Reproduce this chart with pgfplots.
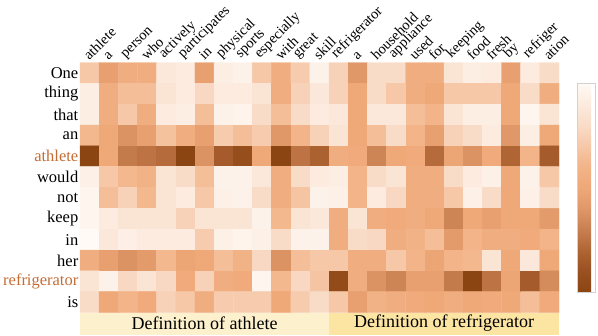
\documentclass[border=0pt]{standalone}
\usepackage{fontspec}
\setmainfont{Liberation Serif}
\usepackage{pgfplots}
\pgfplotsset{compat=1.18}

\definecolor{hl}{RGB}{196,108,52}
\definecolor{bandA}{RGB}{253,241,205}
\definecolor{bandB}{RGB}{252,229,163}

\begin{document}
\begin{tikzpicture}
\useasboundingbox (0,0) rectangle (598bp,336bp);
\begin{axis}[
    at={(80bp,23.5bp)}, anchor=south west,
    scale only axis,
    width=479bp, height=250bp,
    xmin=-0.5, xmax=24.5,
    ymin=-0.5, ymax=11.5,
    y dir=reverse,
    clip=false,
    axis line style={draw=none},
    major tick length=0pt,
    xtick={0,...,24},
    ytick={0,...,11},
    xticklabel pos=upper,
    xticklabels={athlete,a,person,who,actively,participates,in,physical,sports,especially,with,great,skill,refrigerator,a,household,appliance,used,for,keeping,food,fresh,by,refriger,ation},
    yticklabels={One,thing,that,an,\textcolor{hl}{athlete},would,not,keep,in,her,\textcolor{hl}{refrigerator},is},
    xticklabel style={rotate=45, anchor=south west, inner sep=1bp, font=\fontsize{14.5bp}{16bp}\selectfont},
    yticklabel style={inner sep=1.5bp, font=\fontsize{16.5bp}{18bp}\selectfont},
    colormap={attn}{rgb255=(255,250,245) rgb255=(252,235,222) rgb255=(249,220,200) rgb255=(246,200,168) rgb255=(242,180,136) rgb255=(239,168,120) rgb255=(224,152,104) rgb255=(201,128,80) rgb255=(176,101,53) rgb255=(154,80,32) rgb255=(139,69,19)},
    point meta min=0, point meta max=1,
    colorbar,
    colorbar style={
        at={(1.0376,0.918)}, anchor=north west,
        scale only axis,
        width=18bp, height=209bp,
        ytick=\empty,
        y dir=reverse,
        axis line style={draw=gray!35, line width=0.8bp},
    },
]
\addplot[matrix plot*, mesh/cols=25, point meta=explicit] coordinates {
(0,0)[0.30] (1,0)[0.55] (2,0)[0.45] (3,0)[0.45] (4,0)[0.12] (5,0)[0.10] (6,0)[0.55] (7,0)[0.08] (8,0)[0.05] (9,0)[0.30] (10,0)[0.45] (11,0)[0.28] (12,0)[0.05] (13,0)[0.25] (14,0)[0.60] (15,0)[0.20] (16,0)[0.20] (17,0)[0.45] (18,0)[0.45] (19,0)[0.15] (20,0)[0.08] (21,0)[0.10] (22,0)[0.55] (23,0)[0.10] (24,0)[0.20]
(0,1)[0.08] (1,1)[0.45] (2,1)[0.35] (3,1)[0.35] (4,1)[0.15] (5,1)[0.10] (6,1)[0.22] (7,1)[0.10] (8,1)[0.10] (9,1)[0.15] (10,1)[0.45] (11,1)[0.25] (12,1)[0.12] (13,1)[0.25] (14,1)[0.50] (15,1)[0.20] (16,1)[0.30] (17,1)[0.45] (18,1)[0.50] (19,1)[0.30] (20,1)[0.30] (21,1)[0.30] (22,1)[0.50] (23,1)[0.20] (24,1)[0.45]
(0,2)[0.08] (1,2)[0.45] (2,2)[0.30] (3,2)[0.45] (4,2)[0.10] (5,2)[0.08] (6,2)[0.35] (7,2)[0.05] (8,2)[0.04] (9,2)[0.20] (10,2)[0.35] (11,2)[0.20] (12,2)[0.10] (13,2)[0.12] (14,2)[0.50] (15,2)[0.12] (16,2)[0.12] (17,2)[0.35] (18,2)[0.40] (19,2)[0.15] (20,2)[0.08] (21,2)[0.08] (22,2)[0.50] (23,2)[0.03] (24,2)[0.15]
(0,3)[0.38] (1,3)[0.50] (2,3)[0.62] (3,3)[0.55] (4,3)[0.33] (5,3)[0.45] (6,3)[0.55] (7,3)[0.28] (8,3)[0.35] (9,3)[0.28] (10,3)[0.60] (11,3)[0.40] (12,3)[0.25] (13,3)[0.15] (14,3)[0.50] (15,3)[0.35] (16,3)[0.20] (17,3)[0.40] (18,3)[0.55] (19,3)[0.25] (20,3)[0.20] (21,3)[0.10] (22,3)[0.60] (23,3)[0.08] (24,3)[0.50]
(0,4)[1.00] (1,4)[0.50] (2,4)[0.72] (3,4)[0.75] (4,4)[0.78] (5,4)[1.00] (6,4)[0.62] (7,4)[0.85] (8,4)[0.92] (9,4)[0.50] (10,4)[1.00] (11,4)[0.75] (12,4)[0.82] (13,4)[0.45] (14,4)[0.48] (15,4)[0.68] (16,4)[0.50] (17,4)[0.48] (18,4)[0.78] (19,4)[0.52] (20,4)[0.62] (21,4)[0.48] (22,4)[0.80] (23,4)[0.40] (24,4)[0.85]
(0,5)[0.06] (1,5)[0.30] (2,5)[0.38] (3,5)[0.42] (4,5)[0.15] (5,5)[0.20] (6,5)[0.35] (7,5)[0.05] (8,5)[0.05] (9,5)[0.12] (10,5)[0.45] (11,5)[0.20] (12,5)[0.10] (13,5)[0.08] (14,5)[0.40] (15,5)[0.20] (16,5)[0.15] (17,5)[0.45] (18,5)[0.45] (19,5)[0.20] (20,5)[0.10] (21,5)[0.06] (22,5)[0.50] (23,5)[0.05] (24,5)[0.30]
(0,6)[0.03] (1,6)[0.35] (2,6)[0.25] (3,6)[0.38] (4,6)[0.15] (5,6)[0.10] (6,6)[0.30] (7,6)[0.06] (8,6)[0.05] (9,6)[0.20] (10,6)[0.45] (11,6)[0.32] (12,6)[0.05] (13,6)[0.06] (14,6)[0.40] (15,6)[0.10] (16,6)[0.22] (17,6)[0.45] (18,6)[0.45] (19,6)[0.30] (20,6)[0.06] (21,6)[0.20] (22,6)[0.50] (23,6)[0.06] (24,6)[0.20]
(0,7)[0.03] (1,7)[0.10] (2,7)[0.15] (3,7)[0.15] (4,7)[0.15] (5,7)[0.25] (6,7)[0.15] (7,7)[0.15] (8,7)[0.15] (9,7)[0.05] (10,7)[0.38] (11,7)[0.15] (12,7)[0.12] (13,7)[0.45] (14,7)[0.15] (15,7)[0.45] (16,7)[0.48] (17,7)[0.45] (18,7)[0.50] (19,7)[0.68] (20,7)[0.50] (21,7)[0.55] (22,7)[0.50] (23,7)[0.50] (24,7)[0.58]
(0,8)[0.00] (1,8)[0.12] (2,8)[0.07] (3,8)[0.10] (4,8)[0.10] (5,8)[0.10] (6,8)[0.28] (7,8)[0.06] (8,8)[0.04] (9,8)[0.06] (10,8)[0.20] (11,8)[0.05] (12,8)[0.05] (13,8)[0.45] (14,8)[0.20] (15,8)[0.22] (16,8)[0.45] (17,8)[0.42] (18,8)[0.35] (19,8)[0.58] (20,8)[0.40] (21,8)[0.45] (22,8)[0.45] (23,8)[0.48] (24,8)[0.40]
(0,9)[0.45] (1,9)[0.55] (2,9)[0.62] (3,9)[0.58] (4,9)[0.38] (5,9)[0.52] (6,9)[0.50] (7,9)[0.35] (8,9)[0.42] (9,9)[0.22] (10,9)[0.62] (11,9)[0.35] (12,9)[0.30] (13,9)[0.30] (14,9)[0.45] (15,9)[0.45] (16,9)[0.30] (17,9)[0.40] (18,9)[0.52] (19,9)[0.40] (20,9)[0.38] (21,9)[0.15] (22,9)[0.50] (23,9)[0.12] (24,9)[0.50]
(0,10)[0.15] (1,10)[0.05] (2,10)[0.22] (3,10)[0.15] (4,10)[0.22] (5,10)[0.48] (6,10)[0.25] (7,10)[0.45] (8,10)[0.48] (9,10)[0.03] (10,10)[0.38] (11,10)[0.22] (12,10)[0.32] (13,10)[0.95] (14,10)[0.45] (15,10)[0.62] (16,10)[0.68] (17,10)[0.55] (18,10)[0.55] (19,10)[0.72] (20,10)[1.00] (21,10)[0.75] (22,10)[0.52] (23,10)[0.85] (24,10)[0.65]
(0,11)[0.20] (1,11)[0.50] (2,11)[0.40] (3,11)[0.48] (4,11)[0.25] (5,11)[0.30] (6,11)[0.45] (7,11)[0.28] (8,11)[0.28] (9,11)[0.28] (10,11)[0.50] (11,11)[0.28] (12,11)[0.20] (13,11)[0.30] (14,11)[0.55] (15,11)[0.42] (16,11)[0.45] (17,11)[0.48] (18,11)[0.50] (19,11)[0.45] (20,11)[0.50] (21,11)[0.48] (22,11)[0.50] (23,11)[0.35] (24,11)[0.48]
};
% definition bands under the grid
\fill[bandA] (axis cs:-0.5,11.5) rectangle (axis cs:12.5,12.56);
\fill[bandB] (axis cs:12.5,11.5) rectangle (axis cs:24.5,12.56);
\node[font=\fontsize{18bp}{20bp}\selectfont, inner sep=0pt] at (axis cs:6,12.03) {Definition of athlete};
\node[font=\fontsize{18bp}{20bp}\selectfont, inner sep=0pt] at (axis cs:18.5,12.03) {Definition of refrigerator};
\end{axis}
\end{tikzpicture}
\end{document}
